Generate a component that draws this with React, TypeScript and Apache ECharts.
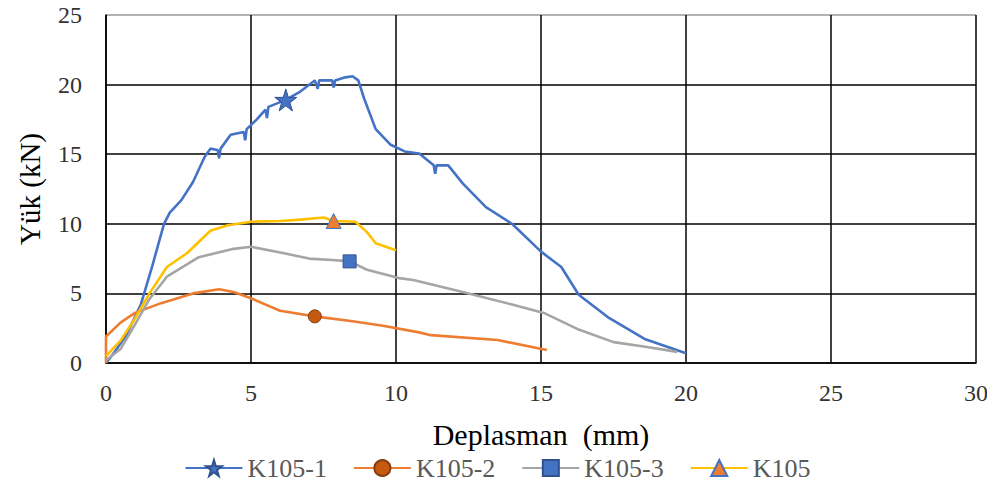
import React, { useEffect, useRef } from "react";
import * as echarts from "echarts";

const xTicks = [0, 5, 10, 15, 20, 25, 30];
const yTicks = [0, 5, 10, 15, 20, 25];

const seriesNames = ["K105-1", "K105-2", "K105-3", "K105"];

const k105_1: number[][] = [
  [0, 0], [0.3, 0.8], [0.7, 2.0], [1.2, 4.2], [1.6, 7.0], [2.0, 10.0], [2.2, 10.8],
  [2.6, 11.7], [3.0, 13.0], [3.4, 14.8], [3.6, 15.4], [3.85, 15.3], [3.9, 14.7], [3.95, 15.4],
  [4.3, 16.4], [4.75, 16.6], [4.8, 16.0], [4.85, 16.8], [5.2, 17.5], [5.5, 18.2], [5.55, 17.6],
  [5.6, 18.4], [6.2, 18.9], [6.7, 19.5], [7.2, 20.3], [7.3, 19.7], [7.35, 20.3], [7.8, 20.3],
  [7.85, 19.8], [7.9, 20.3], [8.2, 20.5], [8.5, 20.6], [8.7, 20.3], [8.9, 19.0], [9.3, 16.8],
  [9.8, 15.7], [10.3, 15.2], [10.8, 15.05], [11.3, 14.2], [11.35, 13.6], [11.4, 14.2],
  [11.8, 14.2], [12.3, 12.9], [13.1, 11.2], [14.0, 10.0], [15.0, 8.0], [15.7, 6.9],
  [16.3, 4.9], [17.3, 3.3], [18.6, 1.7], [20.0, 0.7],
];

const k105_2: number[][] = [
  [0, 0], [0, 1.9], [0.5, 2.9], [1.0, 3.6], [1.9, 4.3], [3.0, 5.0], [3.9, 5.3], [4.4, 5.1],
  [5.0, 4.65], [6.0, 3.75], [7.2, 3.35], [8.5, 3.0], [9.5, 2.7], [10.8, 2.2], [11.2, 2.0],
  [13.5, 1.65], [15.2, 0.93],
];

const k105_3: number[][] = [
  [0, 0.2], [0.5, 1.0], [0.9, 2.4], [1.5, 4.6], [2.1, 6.2], [3.2, 7.6], [4.4, 8.2],
  [5.0, 8.35], [6.1, 7.9], [7.0, 7.5], [7.8, 7.4], [8.4, 7.3], [9.0, 6.7], [10.1, 6.1],
  [10.6, 5.96], [12.3, 5.1], [14.0, 4.2], [15.1, 3.6], [16.3, 2.4], [17.5, 1.5],
  [18.6, 1.17], [19.7, 0.8],
];

const k105: number[][] = [
  [0, 0.5], [0.5, 1.6], [1.0, 3.2], [1.5, 5.0], [2.1, 6.9], [2.8, 7.9], [3.6, 9.5],
  [4.2, 9.9], [5.0, 10.15], [6.0, 10.2], [6.7, 10.3], [7.5, 10.45], [7.85, 10.2],
  [8.6, 10.15], [9.0, 9.4], [9.3, 8.6], [10.0, 8.1],
];

const markerIndex = [22, 10, 11, 12];

const STAR = "path://M50,0 L61,35 L98,35 L68,57 L79,91 L50,70 L21,91 L32,57 L2,35 L39,35 Z";

export default function App() {
  const ref = useRef<HTMLDivElement>(null);
  useEffect(() => {
    if (!ref.current) return;
    const chart = echarts.init(ref.current, null, { renderer: "svg" });
    const serif = "'Liberation Serif', 'Times New Roman', serif";
    const mk = (
      name: string,
      data: number[][],
      idx: number,
      lineColor: string,
      symbol: string,
      size: number,
      fill: string,
      border: string
    ) => ({
      name,
      type: "line",
      data,
      showSymbol: true,
      symbol,
      symbolSize: (_v: any, p: any) => (p.dataIndex === idx ? size : 0),
      lineStyle: { color: lineColor, width: 2.6 },
      itemStyle: { color: fill, borderColor: border, borderWidth: 1 },
      emphasis: { disabled: true },
    });
    chart.setOption({
      animation: false,
      grid: { left: 106, right: 19, top: 15, bottom: 125 },
      xAxis: {
        type: "value",
        min: 0,
        max: 30,
        interval: 5,
        name: "Deplasman  (mm)",
        nameLocation: "middle",
        nameGap: 56,
        nameTextStyle: { fontFamily: serif, fontSize: 30, color: "#000" },
        axisLine: { show: true, lineStyle: { color: "#000", width: 1.5 } },
        axisTick: { show: false },
        axisLabel: { fontFamily: serif, fontSize: 24, color: "#333", margin: 18 },
        splitLine: { show: true, lineStyle: { color: "#000", width: 1.5 } },
      },
      yAxis: {
        type: "value",
        min: 0,
        max: 25,
        interval: 5,
        name: "Yük (kN)",
        nameLocation: "middle",
        nameGap: 62,
        nameTextStyle: { fontFamily: serif, fontSize: 29, color: "#000" },
        axisLine: { show: true, lineStyle: { color: "#000", width: 1.5 } },
        axisTick: { show: false },
        axisLabel: { fontFamily: serif, fontSize: 24, color: "#333", margin: 24 },
        splitLine: {
          show: true,
          lineStyle: { color: ["#000", "#000", "#000", "#000", "#000", "#999"], width: 1.5 },
        },
      },
      legend: {
        data: seriesNames,
        left: "center",
        top: 455,
        padding: 0,
        itemWidth: 57,
        itemHeight: 20,
        itemGap: 26,
        textStyle: { fontFamily: serif, fontSize: 26, color: "#595959" },
      },
      series: [
        mk(seriesNames[0], k105_1, markerIndex[0], "#4472C4", STAR, 22, "#4472C4", "#2F528F"),
        mk(seriesNames[1], k105_2, markerIndex[1], "#ED7D31", "circle", 13, "#C55A11", "#843C0C"),
        mk(seriesNames[2], k105_3, markerIndex[2], "#A5A5A5", "rect", 13, "#4472C4", "#2F528F"),
        mk(seriesNames[3], k105, markerIndex[3], "#FFC000", "triangle", 15, "#ED7D31", "#4472C4"),
      ],
    });
    return () => chart.dispose();
  }, []);
  return <div ref={ref} style={{ width: 995, height: 488, margin: -8 }} />;
}
